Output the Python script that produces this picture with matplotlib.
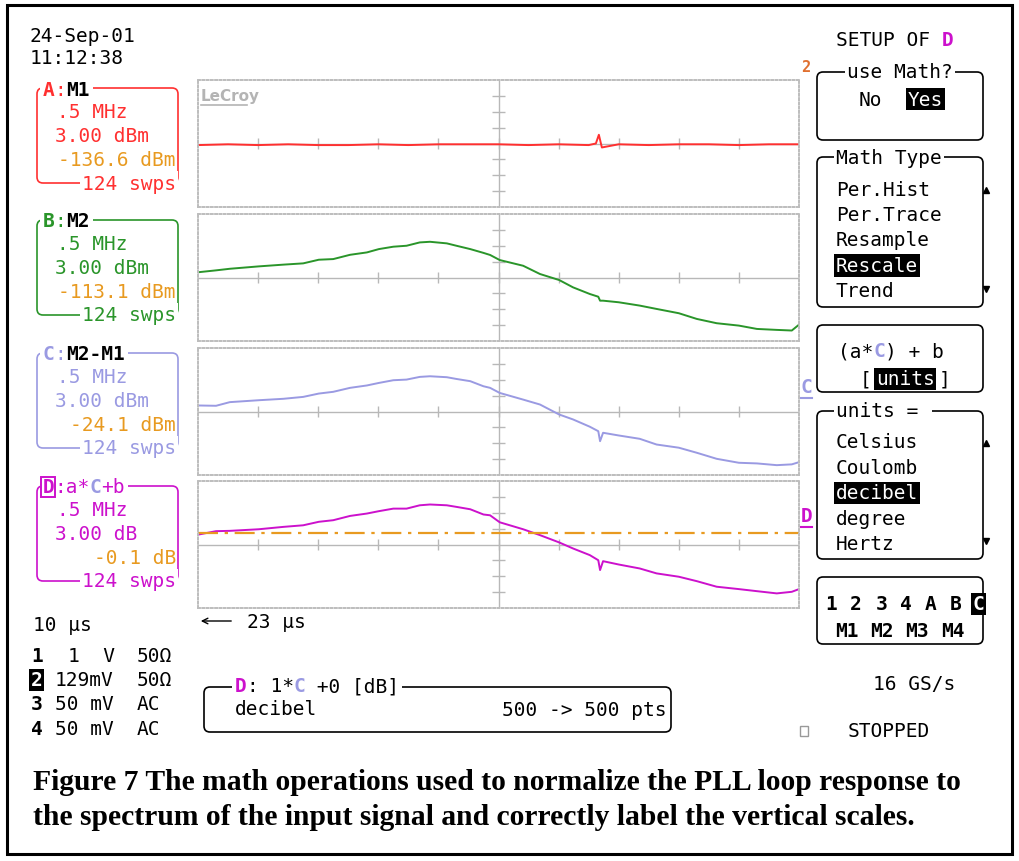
import matplotlib.pyplot as plt
from matplotlib.patches import FancyBboxPatch, Rectangle

# trace data in divisions (x: 0..10, y: -4..4 about centre)
x_red = [0, 0.5, 1, 1.5, 2, 2.5, 3, 3.5, 4, 4.5, 5, 5.5, 6, 6.5, 6.62, 6.67, 6.72,
         7, 7.5, 8, 8.5, 9, 9.5, 10]
y_red = [-0.1, -0.05, -0.1, -0.05, -0.1, -0.1, -0.05, -0.1, -0.05, -0.05, -0.05,
         -0.1, -0.05, -0.1, 0.0, 0.55, -0.25, -0.05, -0.1, -0.05, -0.05, -0.1,
         -0.05, -0.05]

x_div = [0.0, 0.3, 0.53, 1.01, 1.42, 1.75, 2.01, 2.25, 2.53, 2.81, 3.01, 3.25,
         3.47, 3.69, 3.86, 4.14, 4.30, 4.53, 4.75, 4.86, 5.02, 5.41, 5.69, 6.01,
         6.24, 6.52, 6.66, 6.69, 6.74, 7.0, 7.35, 7.63, 8.0, 8.30, 8.63, 9.0,
         9.30, 9.63, 9.88, 10.0]
y_m2 = [0.33, 0.45, 0.55, 0.70, 0.81, 0.89, 1.12, 1.16, 1.43, 1.58, 1.79, 1.94,
        2.00, 2.21, 2.25, 2.15, 2.00, 1.79, 1.55, 1.42, 1.10, 0.74, 0.22, -0.16,
        -0.62, -1.04, -1.21, -1.46, -1.46, -1.56, -1.77, -1.98, -2.25, -2.61,
        -2.88, -3.03, -3.24, -3.30, -3.34, -2.97]
y_diff = [0.38, 0.36, 0.59, 0.71, 0.80, 0.92, 1.13, 1.24, 1.49, 1.64, 1.80, 1.97,
          2.01, 2.18, 2.22, 2.16, 2.05, 1.91, 1.59, 1.49, 1.17, 0.75, 0.44, -0.19,
          -0.50, -0.96, -1.24, -1.87, -1.34, -1.51, -1.72, -2.08, -2.28, -2.60,
          -2.98, -3.23, -3.27, -3.38, -3.33, -3.19]
y_db = [0.62, 0.84, 0.86, 0.96, 1.11, 1.21, 1.43, 1.53, 1.80, 1.95, 2.10, 2.26,
        2.26, 2.47, 2.52, 2.47, 2.37, 2.22, 1.89, 1.84, 1.40, 0.96, 0.59, 0.13,
        -0.25, -0.67, -0.99, -1.61, -1.05, -1.26, -1.51, -1.82, -2.03, -2.31,
        -2.66, -2.81, -2.94, -3.08, -2.98, -2.81]
ref_level = 0.73

RED = '#ff3030'
GREEN = '#2a952a'
LAV = '#9a9ae2'
MAG = '#cc11cc'
ORANGE = '#e89a20'
GRID = '#b8b8b8'

MONO = 'DejaVu Sans Mono'
FS = 14
CW = 0.602 * FS * 100 / 72   # advance of one mono character in pixels

W, H = 1019, 862
fig = plt.figure(figsize=(W / 100, H / 100), dpi=100)

# the four trace grids
panels = [(81, x_red, y_red, RED), (215, x_div, y_m2, GREEN),
          (349, x_div, y_diff, LAV), (482, x_div, y_db, MAG)]
for top, xs, ys, col in panels:
    ax = fig.add_axes([198 / W, 1 - (top + 127) / H, 601 / W, 127 / H])
    ax.set_xlim(0, 10)
    ax.set_ylim(-4, 4)
    ax.set_xticks([])
    ax.set_yticks([])
    for sp in ax.spines.values():
        sp.set_linestyle((0, (1, 1.2)))
        sp.set_color('#bdbdbd')
        sp.set_linewidth(1.4)
    ax.axhline(0, color=GRID, lw=1)
    ax.axvline(5, color=GRID, lw=1)
    ax.vlines(range(1, 10), -0.35, 0.35, color=GRID, lw=1)
    ax.hlines([-3, -2, -1, 1, 2, 3], 4.9, 5.1, color=GRID, lw=1)
    ax.plot(xs, ys, color=col, lw=1.4)
    if col == MAG:
        ax.axhline(ref_level, color=ORANGE, lw=1.6, dashes=(9, 3, 1.5, 3))

# everything else in pixel coordinates
ax0 = fig.add_axes([0, 0, 1, 1], zorder=10)
ax0.set_xlim(0, W)
ax0.set_ylim(H, 0)
ax0.axis('off')


def put(x, y, s, color='black', weight='normal', inv=False, bg=False,
        ha='left', size=FS, z=3):
    kw = {}
    if inv:
        kw['bbox'] = dict(boxstyle='square,pad=0.08', fc='black', ec='none')
        color = 'white'
    elif bg:
        kw['bbox'] = dict(boxstyle='square,pad=0.12', fc='white', ec='none')
    ax0.text(x, y, s, color=color, fontsize=size, fontweight=weight,
             family=MONO, ha=ha, va='center', zorder=z, **kw)


def seq(x, y, pieces, bg=False):
    n = sum(len(p[0]) for p in pieces)
    if bg:
        # white strip behind the whole title to break the box line
        ax0.add_patch(Rectangle((x - 3, y - 9), n * CW + 6, 18, fc='white',
                                ec='none', zorder=2))
    for p in pieces:
        s, col = p[0], p[1]
        wt = p[2] if len(p) > 2 else 'normal'
        put(x, y, s, col, wt)
        x += len(s) * CW


def rbox(x0, y0, x1, y1, color='black', lw=1.2):
    ax0.add_patch(FancyBboxPatch((x0, y0), x1 - x0, y1 - y0,
                                 boxstyle='round,pad=0,rounding_size=6',
                                 fill=False, ec=color, lw=lw, zorder=1))


ax0.add_patch(Rectangle((7, 6), 1005, 849, fill=False, ec='black', lw=2.2))

# top left
put(30, 37, "24-Sep-01")
put(30, 59, "11:12:38")

# trace boxes
boxes = [
    (89, RED, [("A", RED, 'bold'), (":", RED), ("M1", 'black', 'bold')],
     ".5 MHz", "3.00 dBm", "-136.6 dBm"),
    (221, GREEN, [("B", GREEN, 'bold'), (":", GREEN), ("M2", 'black', 'bold')],
     ".5 MHz", "3.00 dBm", "-113.1 dBm"),
    (354, LAV, [("C", LAV, 'bold'), (":", LAV), ("M2-M1", 'black', 'bold')],
     ".5 MHz", "3.00 dBm", "-24.1 dBm"),
    (487, MAG, [("D", MAG, 'bold'), (":a*", MAG), ("C", LAV, 'bold'), ("+b", MAG)],
     ".5 MHz", "3.00 dB", "-0.1 dB"),
]
for top, col, title, l1, l2, l3 in boxes:
    rbox(37, top, 178, top + 95, col)
    seq(43, top + 1, title, bg=True)
    put(57, top + 24, l1, col)
    put(55, top + 48, l2, col)
    put(176, top + 72, l3, ORANGE, ha='right')
    put(176, top + 95, "124 swps", col, ha='right', bg=True)
# boxed D marker
ax0.add_patch(Rectangle((41, 478), 14, 20, fill=False, ec=MAG, lw=1.4, zorder=4))

# LeCroy logo
ax0.text(201, 96, "LeCroy", color='#b4b4b4', fontsize=11, fontweight='bold',
         family='DejaVu Sans', va='center')
ax0.plot([201, 247], [106, 106], color='#b4b4b4', lw=1.2)

# trace markers at the right edge of the grid
put(801, 67, "2", '#e07030', 'bold', size=11)
put(801, 388, "C", LAV, 'bold')
ax0.plot([801, 812], [399, 399], color=LAV, lw=1.5)
put(801, 517, "D", MAG, 'bold')
ax0.plot([801, 812], [528, 528], color=MAG, lw=1.5)

# time base and channel settings
put(33, 626, "10 μs")
ax0.annotate("", xy=(198, 622), xytext=(234, 622),
             arrowprops=dict(arrowstyle='->', color='black', lw=1))
put(247, 623, "23 μs")

ch_rows = [657, 681, 705, 730]
ch_num = ["1", "2", "3", "4"]
ch_scale = ["1  V", "129mV", "50 mV", "50 mV"]
ch_scale_x = [68, 55, 55, 55]
ch_coup = ["50Ω", "50Ω", "AC", "AC"]
for i, y in enumerate(ch_rows):
    put(31, y, ch_num[i], weight='bold', inv=(i == 1))
    put(ch_scale_x[i], y, ch_scale[i])
    put(137, y, ch_coup[i])

# math summary box
rbox(204, 688, 671, 733)
seq(235, 687, [("D", MAG, 'bold'), (": 1*", 'black'), ("C", LAV, 'bold'),
               (" +0 [dB]", 'black')], bg=True)
put(235, 710, "decibel")
put(667, 711, "500 -> 500 pts", ha='right')

# right hand menu
seq(836, 41, [("SETUP OF ", 'black'), ("D", MAG, 'bold')])

rbox(817, 73, 983, 141)
put(847, 73, "use Math?", bg=True)
put(859, 100, "No")
put(908, 100, "Yes", inv=True)

rbox(817, 158, 983, 308)
put(836, 158, "Math Type", bg=True)
math_types = ["Per.Hist", "Per.Trace", "Resample", "Rescale", "Trend"]
for i, s in enumerate(math_types):
    put(836, 190 + 25.5 * i, s, inv=(s == "Rescale"))
ax0.plot([986], [191], marker='^', color='black', ms=5)
ax0.plot([986], [290], marker='v', color='black', ms=5)

rbox(817, 326, 983, 393)
seq(838, 352, [("(a*", 'black'), ("C", LAV, 'bold'), (") + b", 'black')])
put(860, 380, "[")
put(864 + CW, 380, "units", inv=True)
put(868 + 6 * CW, 380, "]")

rbox(817, 412, 983, 560)
put(836, 412, "units = ", bg=True)
unit_list = ["Celsius", "Coulomb", "decibel", "degree", "Hertz"]
for i, s in enumerate(unit_list):
    put(836, 443 + 25.5 * i, s, inv=(s == "decibel"))
ax0.plot([986], [444], marker='^', color='black', ms=5)
ax0.plot([986], [542], marker='v', color='black', ms=5)

rbox(817, 578, 983, 645)
sel_top = ["1", "2", "3", "4", "A", "B", "C"]
sel_top_x = [825, 850, 876, 900, 925, 950, 973]
for s, x in zip(sel_top, sel_top_x):
    put(x, 605, s, weight='bold', inv=(s == "C"))
sel_bot = ["M1", "M2", "M3", "M4"]
sel_bot_x = [835, 870, 905, 941]
for s, x in zip(sel_bot, sel_bot_x):
    put(x, 632, s, weight='bold')

put(873, 685, "16 GS/s")
ax0.add_patch(Rectangle((800, 727), 8, 10, fill=False, ec='#999999', lw=1))
put(848, 732, "STOPPED")

# caption
caption = ["Figure 7 The math operations used to normalize the PLL loop response to",
           "the spectrum of the input signal and correctly label the vertical scales."]
for i, line in enumerate(caption):
    ax0.text(33, 790 + 35 * i, line, family='Liberation Serif', fontweight='bold',
             fontsize=21.3, va='baseline', ha='left')

fig.savefig("out.png", dpi=100)
